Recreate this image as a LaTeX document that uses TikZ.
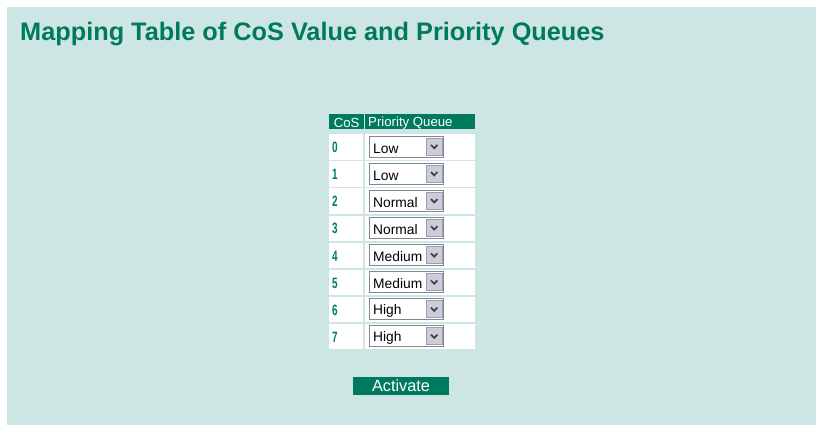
\documentclass[tikz,border=0pt]{standalone}
\usepackage{fontspec}
\setmainfont{Liberation Sans}
\usetikzlibrary{positioning}
\definecolor{panel}{RGB}{205,230,228}
\definecolor{moxa}{RGB}{0,122,94}
\definecolor{btngray}{RGB}{204,204,218}
\definecolor{selframe}{RGB}{128,136,150}
\begin{document}
\begin{tikzpicture}[x=1pt,y=-1pt,
  cell/.style={fill=white,inner sep=0pt,minimum height=25.5pt,anchor=north west},
  hcell/.style={fill=moxa,inner sep=0pt,minimum height=15pt,anchor=north west},
  htext/.style={text=white,inner sep=0pt,font=\fontsize{13.2}{14}\selectfont},
  num/.style={text=moxa,font=\bfseries\fontsize{15}{16}\selectfont,inner sep=0pt,anchor=west},
  selbox/.style={draw=selframe,fill=white,inner sep=0pt,minimum width=74pt,minimum height=21pt,anchor=west},
  arrowbtn/.style={draw=selframe!80,fill=btngray,inner sep=0pt,minimum width=16pt,minimum height=17pt,anchor=east},
  seltext/.style={font=\fontsize{13.8}{14}\selectfont,inner sep=0pt,anchor=west}]
\useasboundingbox (0,0) rectangle (816,425);
\fill[panel] (7,7) rectangle (816,425);
\node[text=moxa,font=\bfseries\fontsize{25.3}{27}\selectfont,inner sep=0pt,anchor=base west] (title) at (20,41) {Mapping Table of CoS Value and Priority Queues};
% header
\node[hcell,minimum width=35pt] (hcos) at (329,114) {};
\node[hcell,minimum width=110pt] (hqueue) at (365,114) {};
\node[htext] (hcostext) at ([yshift=-1pt]hcos.center) {CoS};
\node[htext,anchor=west] (hqueuetext) at ([xshift=3pt,yshift=-1.5pt]hqueue.west) {Priority Queue};
% rows
\foreach \i/\q in {0/Low,1/Low,2/Normal,3/Normal,4/Medium,5/Medium,6/High,7/High} {
  \pgfmathsetmacro\rowtop{134+27.1*\i}
  \node[cell,minimum width=34pt] (cos\i) at (329,\rowtop) {};
  \node[num] (n\i) at ([xshift=3pt,yshift=-0.5pt]cos\i.west) {\scalebox{0.66}[1]{\i}};
  \node[cell,minimum width=110pt] (q\i) at (365,\rowtop) {};
  \node[selbox] (sel\i) at ([xshift=4pt,yshift=0.5pt]q\i.west) {};
  \node[seltext] (t\i) at ([xshift=4pt,yshift=-2pt]sel\i.west) {\q};
  \node[arrowbtn] (b\i) at ([xshift=-1pt]sel\i.east) {};
  \draw[line width=1.7pt,color=black!75] ([shift={(-3.2,-1.5)}]b\i.center) -- ([shift={(0,1.8)}]b\i.center) -- ([shift={(3.2,-1.5)}]b\i.center);
}
% button
\node[draw=white!80!moxa,line width=1.2pt,fill=moxa,text=white,inner sep=0pt,minimum width=97pt,minimum height=20pt,font=\fontsize{16.3}{17}\selectfont] (activate) at (401,386) {Activate};
\end{tikzpicture}
\end{document}
